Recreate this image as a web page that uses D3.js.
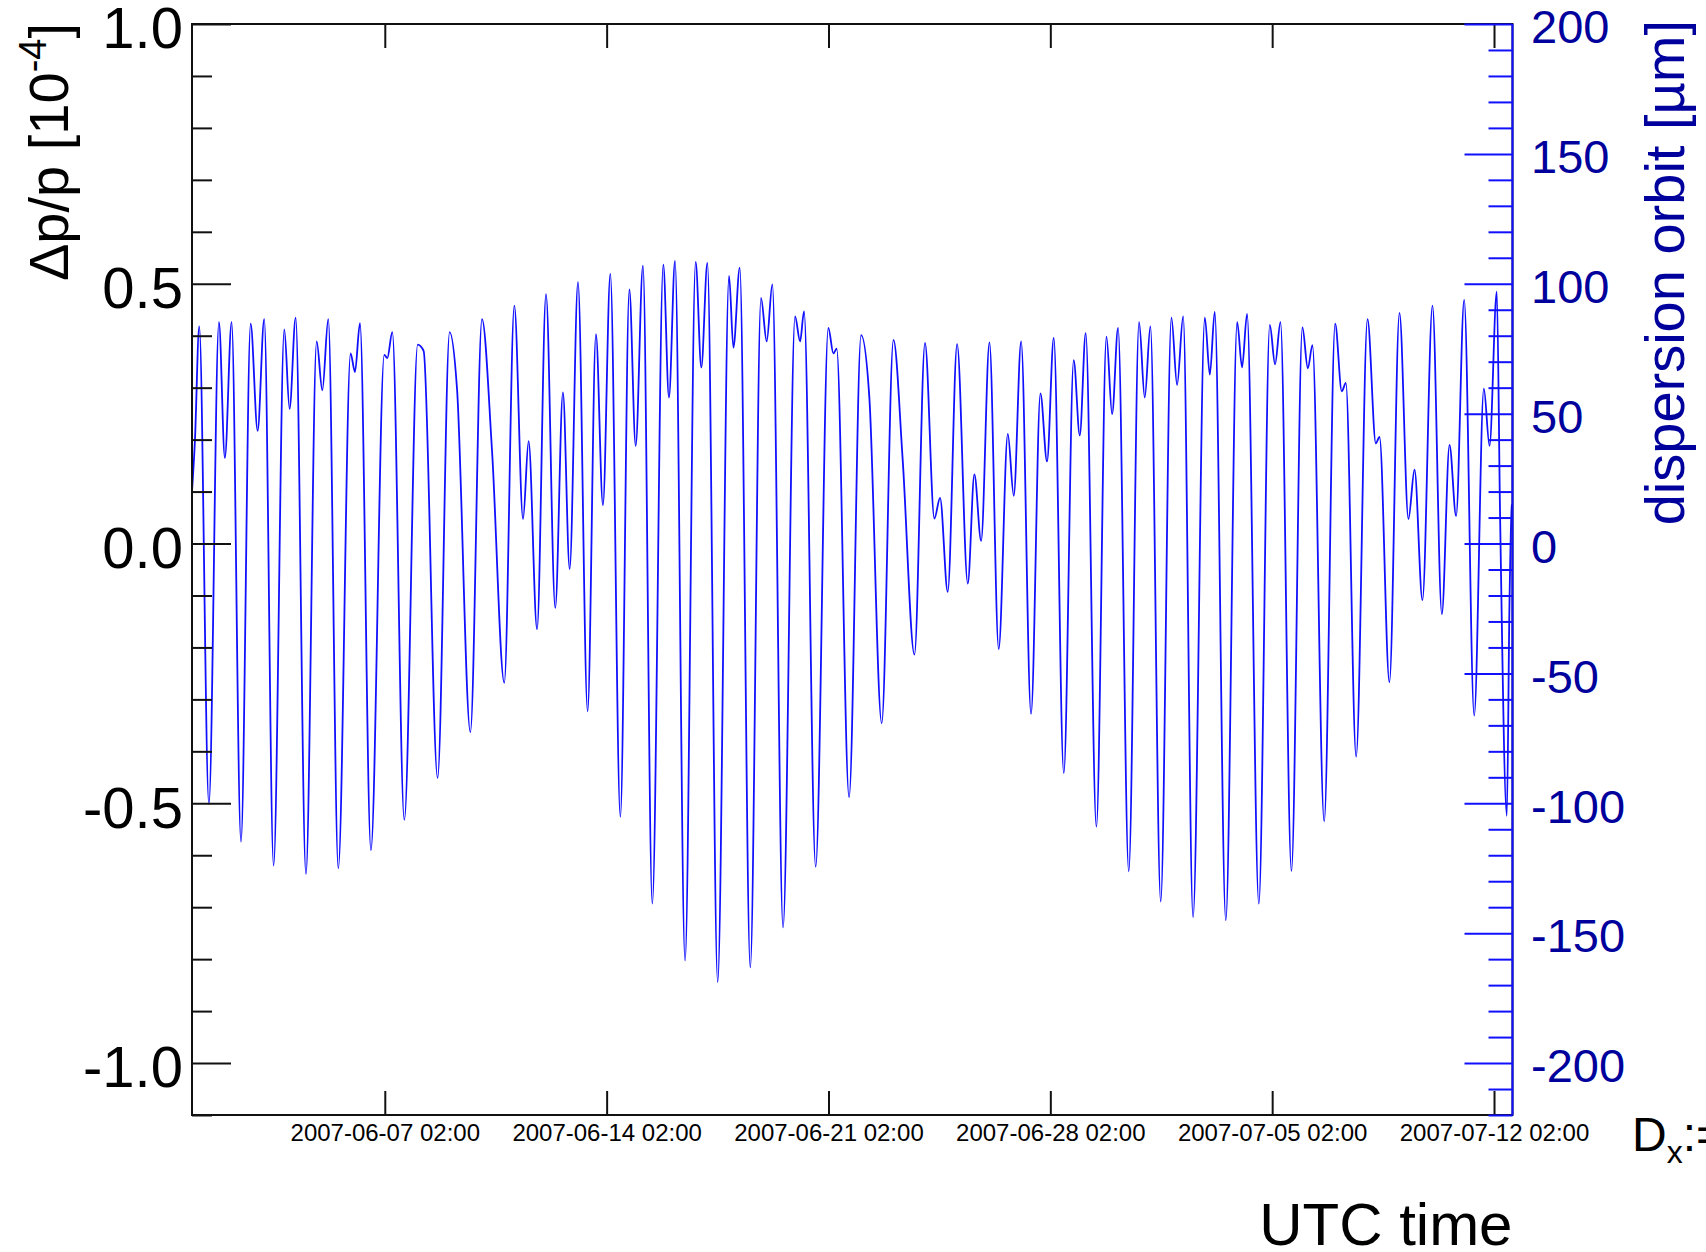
<!DOCTYPE html>
<html>
<head>
  <meta charset="utf-8">
  <title>dispersion orbit vs UTC time</title>
  <style>
    body { margin: 0; background: #fff; }
    text { font-family: "Liberation Sans", Arial, sans-serif; }
  </style>
</head>
<body>
  <script src="https://d3js.org/d3.v7.min.js"></script>
  <script>
    // hours since 2007-06-01 00:00 UTC (extrema + shoulders)
    var hours = [0, 2.2, 5.5, 12.8, 20.4, 24.9, 30.0, 37.1, 44.4, 49.7, 54.7, 61.8, 69.9, 73.9, 78.5, 86.3,
      94.4, 98.7, 103.2, 110.8, 120.1, 123.4, 127.2, 135.5, 145.6, 147.9, 151.7, 160.8,
      170.9, 175.4, 186.0, 195.1, 200.7, 210.8, 219.6, 227.2, 236.5, 244.1, 250.7, 254.9, 261.3,
      268.1, 275.1, 280.9, 286.0, 292.3, 299.6, 305.9, 311.2, 316.8, 324.4, 331.2,
      336.0, 341.5, 348.6, 356.9, 361.2, 365.8, 373.4, 381.4, 385.7, 390.3, 398.1, 406.7, 410.0,
      414.8, 422.8, 430.9, 435.2, 439.5, 447.6, 456.7, 460.5, 463.5, 472.3, 481.9, 485.7, 488.2, 497.6,
      506.7, 513.0, 522.3, 531.2, 538.2, 547.1, 555.1, 562.2, 566.5, 572.3, 579.4, 587.5, 592.5,
      597.6, 603.9, 610.9, 617.8, 622.3, 627.9, 635.4, 642.5, 647.5, 652.6, 660.2, 667.7,
      672.3, 676.8, 684.9, 692.5, 696.8, 701.3, 709.4, 717.2, 721.5, 725.8, 733.6, 741.7, 746.0,
      750.6, 758.1, 767.0, 770.8, 774.5, 782.9, 791.5, 795.2, 799.0, 807.9, 816.2, 820.2, 824.3, 832.6,
      840.9, 845.0, 848.5, 857.4, 865.7, 870.7, 873.8, 881.6, 890.2, 896.5, 899.3, 906.8, 914.4,
      921.2, 925.8, 931.8, 939.4, 946.5, 952.3, 957.3, 963.4, 971.0, 978.3, 982.6, 988.1, 990.6,
      995.7, 997.7, 999.5, 1000];

    // delta p / p in units of 1e-4
    var dpp = [0.10, 0.197, 0.418, -0.501, 0.426, 0.165, 0.426, -0.574, 0.423, 0.217, 0.432, -0.62, 0.412, 0.259, 0.435, -0.636,
      0.389, 0.295, 0.432, -0.625, 0.366, 0.33, 0.424, -0.59, 0.363, 0.357, 0.407, -0.532,
      0.383, 0.371, -0.451, 0.407, 0.298, -0.363, 0.432, 0.179, -0.268, 0.458, 0.047, 0.197, -0.165,
      0.48, -0.124, 0.291, -0.049, 0.503, -0.323, 0.403, 0.074, 0.519, -0.526, 0.489,
      0.188, 0.535, -0.693, 0.537, 0.281, 0.544, -0.803, 0.542, 0.339, 0.54, -0.844, 0.515, 0.377,
      0.531, -0.816, 0.473, 0.389, 0.499, -0.739, 0.437, 0.389, 0.447, -0.622, 0.415, 0.366, 0.375, -0.488,
      0.401, 0.279, -0.346, 0.392, 0.161, -0.214, 0.386, 0.048, 0.088, -0.093, 0.384, -0.077, 0.133,
      0.005, 0.387, -0.203, 0.211, 0.092, 0.389, -0.328, 0.289, 0.158, 0.396, -0.442, 0.353,
      0.208, 0.405, -0.545, 0.398, 0.249, 0.415, -0.631, 0.426, 0.281, 0.418, -0.689, 0.435, 0.305,
      0.437, -0.719, 0.435, 0.325, 0.446, -0.725, 0.426, 0.339, 0.442, -0.693, 0.421, 0.345, 0.426, -0.63,
      0.416, 0.337, 0.382, -0.535, 0.423, 0.293, 0.309, -0.41, 0.432, 0.193, 0.205, -0.267, 0.444,
      0.047, 0.142, -0.109, 0.458, -0.136, 0.19, 0.053, 0.469, -0.331, 0.298, 0.188, 0.485, 0.053,
      -0.524, -0.118, 0.074, 0.075];

    var dateTicks = ["2007-06-07 02:00", "2007-06-14 02:00", "2007-06-21 02:00",
      "2007-06-28 02:00", "2007-07-05 02:00", "2007-07-12 02:00"];
    var leftMajor = [-1.0, -0.5, 0.0, 0.5, 1.0];
    var rightMajor = [-200, -150, -100, -50, 0, 50, 100, 150, 200];

    var width = 1706, height = 1252;
    var frame = { left: 192, right: 1512.5, top: 24, bottom: 1115 };
    var blue = "#1010ff", navy = "#00009c";

    var svg = d3.select("body").append("svg")
      .attr("width", width)
      .attr("height", height)
      .style("display", "block");

    var parse = d3.utcParse("%Y-%m-%d %H:%M");
    var t0 = parse("2007-06-01 00:00");
    var t1 = parse("2007-07-12 16:00");

    var x = d3.scaleUtc().domain([t0, t1]).range([frame.left, frame.right]);
    var y = d3.scaleLinear().domain([-1.1, 1.0]).range([frame.bottom, frame.top]);
    var y2 = d3.scaleLinear().domain([-220, 200]).range([frame.bottom, frame.top]);

    var data = hours.map(function (h, i) {
      return { t: new Date(t0.getTime() + h * 3600e3), v: dpp[i] };
    });

    // curve
    var line = d3.line()
      .x(function (d) { return x(d.t); })
      .y(function (d) { return y(d.v); })
      .curve(d3.curveMonotoneX);

    svg.append("path")
      .datum(data)
      .attr("d", line)
      .attr("fill", "none")
      .attr("stroke", blue)
      .attr("stroke-width", 1.8);

    // frame
    svg.append("rect")
      .attr("x", frame.left)
      .attr("y", frame.top)
      .attr("width", frame.right - frame.left)
      .attr("height", frame.bottom - frame.top)
      .attr("fill", "none")
      .attr("stroke", "#111")
      .attr("stroke-width", 2);

    function styleAxis(g, color, fontSize) {
      g.select(".domain").remove();
      g.selectAll(".tick line").attr("stroke", color).attr("stroke-width", 2);
      g.selectAll(".tick text")
        .attr("fill", color === blue ? navy : "#000")
        .style("font-family", '"Liberation Sans", Arial, sans-serif')
        .style("font-size", fontSize + "px");
    }

    // x axis bottom + top
    var xTicks = dateTicks.map(parse);
    var xAxis = d3.axisBottom(x).tickValues(xTicks).tickSize(-24).tickPadding(9)
      .tickFormat(d3.utcFormat("%Y-%m-%d %H:%M"));
    svg.append("g")
      .attr("transform", "translate(0," + frame.bottom + ")")
      .call(xAxis)
      .call(function (g) { styleAxis(g, "#111", 24); });

    svg.append("g")
      .attr("transform", "translate(0," + frame.top + ")")
      .call(d3.axisTop(x).tickValues(xTicks).tickSize(-24).tickFormat(""))
      .call(function (g) { styleAxis(g, "#111", 24); });

    // left axis
    var leftMinor = d3.range(-11, 11).map(function (i) { return i / 10; })
      .filter(function (v) { return Math.abs(v * 2 - Math.round(v * 2)) > 1e-6; });
    svg.append("g")
      .attr("transform", "translate(" + frame.left + ",0)")
      .call(d3.axisLeft(y).tickValues(leftMinor).tickSize(-20).tickFormat(""))
      .call(function (g) { styleAxis(g, "#111", 58); });
    var gl = svg.append("g")
      .attr("transform", "translate(" + frame.left + ",0)")
      .call(d3.axisLeft(y).tickValues(leftMajor).tickSize(-39).tickPadding(9)
        .tickFormat(function (d) { return d.toFixed(1); }))
      .call(function (g) { styleAxis(g, "#111", 58); });
    gl.selectAll(".tick text").attr("dy", "0.41em");

    // right axis (dispersion orbit)
    var rightMinor = d3.range(-220, 201, 10).filter(function (v) { return v % 50 !== 0; });
    svg.append("g")
      .attr("transform", "translate(" + frame.right + ",0)")
      .call(d3.axisRight(y2).tickValues(rightMinor).tickSize(-24).tickFormat(""))
      .call(function (g) { styleAxis(g, blue, 47); });
    var gr = svg.append("g")
      .attr("transform", "translate(" + frame.right + ",0)")
      .call(d3.axisRight(y2).tickValues(rightMajor).tickSize(-48).tickPadding(18.5)
        .tickFormat(function (d) { return String(d); }))
      .call(function (g) { styleAxis(g, blue, 47); });
    gr.selectAll(".tick text").attr("dy", "0.40em");
    svg.append("line")
      .attr("x1", frame.right).attr("x2", frame.right)
      .attr("y1", frame.top).attr("y2", frame.bottom)
      .attr("stroke", blue)
      .attr("stroke-width", 2);

    // titles
    var lt = svg.append("text")
      .attr("transform", "translate(68,23) rotate(-90)")
      .attr("text-anchor", "end")
      .style("font-size", "56px")
      .attr("fill", "#000");
    lt.append("tspan").text("\u0394p/p [10");
    lt.append("tspan").attr("dy", -22).style("font-size", "38px").text("-4");
    lt.append("tspan").attr("dy", 22).text("]");

    svg.append("text")
      .attr("transform", "translate(1684,20) rotate(-90)")
      .attr("text-anchor", "end")
      .style("font-size", "56px")
      .attr("fill", navy)
      .text("dispersion orbit [\u00b5m]");

    svg.append("text")
      .attr("x", frame.right)
      .attr("y", 1245)
      .attr("text-anchor", "end")
      .style("font-size", "60px")
      .text("UTC time");

    var dx = svg.append("text")
      .attr("x", 1632)
      .attr("y", 1151)
      .style("font-size", "48px");
    dx.append("tspan").text("D");
    dx.append("tspan").attr("dy", 12).style("font-size", "32px").text("x");
    dx.append("tspan").attr("dy", -12).text(":=");
  </script>
</body>
</html>
